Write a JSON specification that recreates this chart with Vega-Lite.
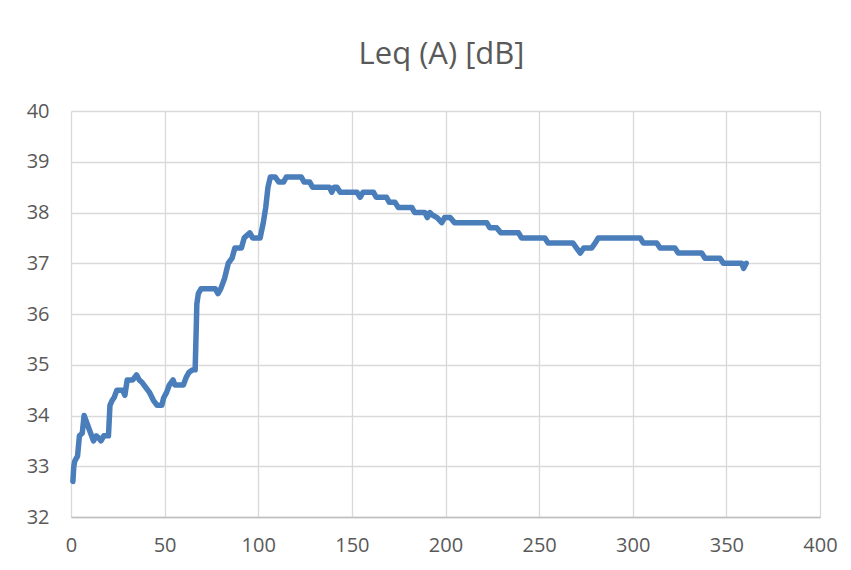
{
  "$schema": "https://vega.github.io/schema/vega-lite/v6.json",
  "autosize": "none",
  "width": 749,
  "height": 406,
  "padding": {"left": 71, "top": 111, "right": 31, "bottom": 53},
  "background": "white",
  "title": {
    "text": "Leq (A) [dB]",
    "font": "Open Sans",
    "fontSize": 31,
    "fontWeight": "normal",
    "color": "#595959",
    "anchor": "middle",
    "baseline": "alphabetic",
    "offset": 6,
    "dx": -4
  },
  "config": {
    "view": {"stroke": null},
    "axis": {
      "labelFont": "Open Sans",
      "labelFontSize": 20,
      "labelColor": "#595959",
      "gridColor": "#d9d9d9",
      "gridWidth": 1.3,
      "ticks": false,
      "title": null
    }
  },
  "data": {
    "values": [
      {"t": 1, "leq": 32.7}, {"t": 1.5, "leq": 33.0}, {"t": 2, "leq": 33.1}, {"t": 3.5, "leq": 33.2},
      {"t": 4.5, "leq": 33.6}, {"t": 6, "leq": 33.65}, {"t": 7, "leq": 34.0}, {"t": 8, "leq": 33.9},
      {"t": 10, "leq": 33.7}, {"t": 12, "leq": 33.5}, {"t": 13.5, "leq": 33.6}, {"t": 15, "leq": 33.55},
      {"t": 16, "leq": 33.5}, {"t": 17.5, "leq": 33.6}, {"t": 20, "leq": 33.6}, {"t": 20.8, "leq": 34.2},
      {"t": 22, "leq": 34.3}, {"t": 23, "leq": 34.35}, {"t": 24.5, "leq": 34.5}, {"t": 27.5, "leq": 34.5},
      {"t": 28.8, "leq": 34.4}, {"t": 30, "leq": 34.7}, {"t": 33, "leq": 34.7}, {"t": 35, "leq": 34.8},
      {"t": 36.5, "leq": 34.7}, {"t": 38, "leq": 34.65}, {"t": 40, "leq": 34.55}, {"t": 42, "leq": 34.45},
      {"t": 44, "leq": 34.3}, {"t": 46, "leq": 34.2}, {"t": 48.5, "leq": 34.2}, {"t": 49.5, "leq": 34.35},
      {"t": 51, "leq": 34.45}, {"t": 52.5, "leq": 34.6}, {"t": 54.5, "leq": 34.7}, {"t": 55.5, "leq": 34.6},
      {"t": 60, "leq": 34.6}, {"t": 61.5, "leq": 34.75}, {"t": 63, "leq": 34.85}, {"t": 65, "leq": 34.9},
      {"t": 66.3, "leq": 34.9}, {"t": 66.8, "leq": 35.6}, {"t": 67.2, "leq": 36.2}, {"t": 68, "leq": 36.4},
      {"t": 69.5, "leq": 36.5}, {"t": 77, "leq": 36.5}, {"t": 78.5, "leq": 36.4}, {"t": 80, "leq": 36.5},
      {"t": 82, "leq": 36.7}, {"t": 84, "leq": 37.0}, {"t": 86, "leq": 37.1}, {"t": 87.5, "leq": 37.3},
      {"t": 91, "leq": 37.3}, {"t": 92.5, "leq": 37.5}, {"t": 95.5, "leq": 37.6}, {"t": 97, "leq": 37.5},
      {"t": 101, "leq": 37.5}, {"t": 102.7, "leq": 37.8}, {"t": 104, "leq": 38.1}, {"t": 105.2, "leq": 38.5},
      {"t": 106.5, "leq": 38.7}, {"t": 109, "leq": 38.7}, {"t": 111, "leq": 38.6}, {"t": 113.5, "leq": 38.6},
      {"t": 115, "leq": 38.7}, {"t": 123, "leq": 38.7}, {"t": 124.5, "leq": 38.6}, {"t": 127.5, "leq": 38.6},
      {"t": 129, "leq": 38.5}, {"t": 138, "leq": 38.5}, {"t": 139.3, "leq": 38.4}, {"t": 140.5, "leq": 38.5},
      {"t": 142, "leq": 38.5}, {"t": 143.8, "leq": 38.4}, {"t": 152.7, "leq": 38.4}, {"t": 154.4, "leq": 38.3},
      {"t": 156, "leq": 38.4}, {"t": 161.5, "leq": 38.4}, {"t": 163, "leq": 38.3}, {"t": 168.5, "leq": 38.3},
      {"t": 170, "leq": 38.2}, {"t": 173, "leq": 38.2}, {"t": 174.8, "leq": 38.1}, {"t": 182, "leq": 38.1},
      {"t": 183.5, "leq": 38.0}, {"t": 189, "leq": 38.0}, {"t": 190.3, "leq": 37.9}, {"t": 191.6, "leq": 38.0},
      {"t": 193, "leq": 37.95}, {"t": 195.5, "leq": 37.9}, {"t": 198, "leq": 37.8}, {"t": 199.5, "leq": 37.9},
      {"t": 202.5, "leq": 37.9}, {"t": 204.8, "leq": 37.8}, {"t": 222, "leq": 37.8}, {"t": 223.6, "leq": 37.7},
      {"t": 227.3, "leq": 37.7}, {"t": 229.5, "leq": 37.6}, {"t": 239, "leq": 37.6}, {"t": 240.6, "leq": 37.5},
      {"t": 253, "leq": 37.5}, {"t": 254.8, "leq": 37.4}, {"t": 268, "leq": 37.4}, {"t": 270, "leq": 37.3},
      {"t": 272, "leq": 37.2}, {"t": 273.8, "leq": 37.3}, {"t": 278, "leq": 37.3}, {"t": 280, "leq": 37.4},
      {"t": 281.6, "leq": 37.5}, {"t": 304, "leq": 37.5}, {"t": 305.6, "leq": 37.4}, {"t": 312.8, "leq": 37.4},
      {"t": 314.6, "leq": 37.3}, {"t": 322.5, "leq": 37.3}, {"t": 324.3, "leq": 37.2}, {"t": 336.8, "leq": 37.2},
      {"t": 338.6, "leq": 37.1}, {"t": 346.6, "leq": 37.1}, {"t": 348.4, "leq": 37.0}, {"t": 358.2, "leq": 37.0},
      {"t": 359.2, "leq": 36.9}, {"t": 360.6, "leq": 37.0}
    ]
  },
  "mark": {
    "type": "line",
    "color": "#4a7ebb",
    "strokeWidth": 5.5,
    "strokeCap": "round",
    "strokeJoin": "round",
    "clip": false
  },
  "encoding": {
    "x": {
      "field": "t",
      "type": "quantitative",
      "scale": {"domain": [0, 400], "nice": false, "zero": false},
      "axis": {
        "values": [0, 50, 100, 150, 200, 250, 300, 350, 400],
        "labelPadding": 18,
        "domainColor": "#bfbfbf",
        "domainWidth": 1.3,
        "labelFlush": false,
        "labelOverlap": false
      }
    },
    "y": {
      "field": "leq",
      "type": "quantitative",
      "scale": {"domain": [32, 40], "nice": false, "zero": false},
      "axis": {
        "values": [32, 33, 34, 35, 36, 37, 38, 39, 40],
        "labelPadding": 22,
        "domain": false,
        "labelFlush": false,
        "labelOverlap": false
      }
    }
  }
}
